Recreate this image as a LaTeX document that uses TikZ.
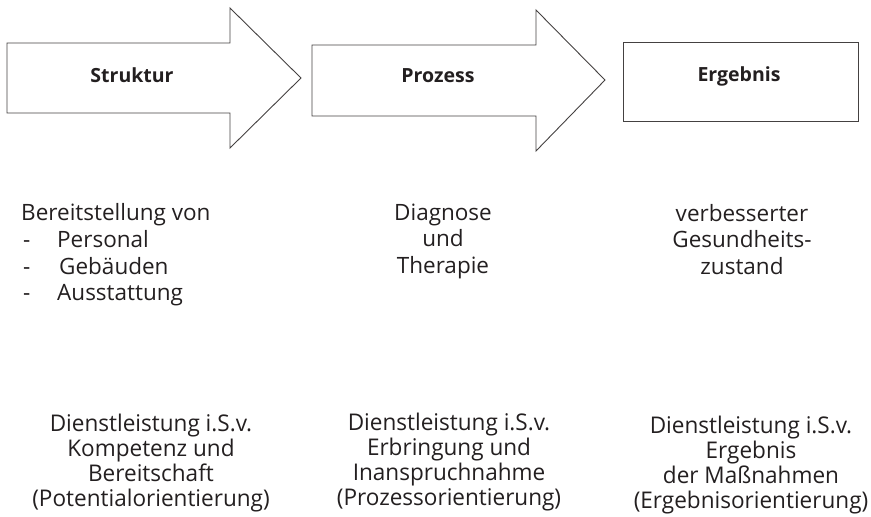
\documentclass[tikz,border=0pt]{standalone}
\usepackage{fontspec}
\setmainfont{Open Sans}
\newfontfamily\narrowfont[FakeStretch=0.98]{Open Sans}
\definecolor{ink}{HTML}{231F20}
\begin{document}
\begin{tikzpicture}[x=1pt,y=-1pt,
  shapeline/.style={draw=ink!85,line width=0.9pt,line join=miter},
  title/.style={font=\fontsize{19.5}{22}\selectfont\bfseries,text=ink,inner sep=0pt},
  midtext/.style={font=\fontsize{22.5}{26.7}\selectfont,text=ink,inner sep=0pt},
  bottext/.style={font=\narrowfont\fontsize{23}{24.8}\selectfont,text=ink,inner sep=0pt,align=center}]
\useasboundingbox (0,0) rectangle (871,517);
% shapes
\draw[shapeline] (7,43) -- (230,43) -- (230,8) -- (301,78) -- (230,148) -- (230,113) -- (7,113) -- cycle;
\draw[shapeline] (312,45) -- (536,45) -- (536,10) -- (605,80) -- (536,151) -- (536,116) -- (312,116) -- cycle;
\draw[shapeline] (623,42) rectangle (858,121);
% titles
\node[title,anchor=base] (struktur) at (132,82) {Struktur};
\node[title,anchor=base] (prozess) at (438,82) {Prozess};
\node[title,anchor=base] (ergebnis) at (739,81.5) {Ergebnis};
% middle texts
\node[midtext,anchor=base west] (bereit) at (21,220) {Bereitstellung von};
\node[midtext,anchor=base west] (d1) at (23,247) {-};
\node[midtext,anchor=base west] (l1) at (57,247) {Personal};
\node[midtext,anchor=base west] (d2) at (23,274) {-};
\node[midtext,anchor=base west] (l2) at (59,274) {Gebäuden};
\node[midtext,anchor=base west] (d3) at (23,300) {-};
\node[midtext,anchor=base west] (l3) at (57,300) {Ausstattung};
\node[midtext,align=center,anchor=base] (diag) at (443,273.4) {Diagnose\\und\\Therapie};
\node[midtext,align=center,anchor=base] (verb) at (742,274.4) {verbesserter\\Gesundheits-\\zustand};
% bottom texts (anchor = baseline of last line)
\node[bottext,anchor=base] (b1) at (151,506) {Dienstleistung i.S.v.\\Kompetenz und\\Bereitschaft\\(Potentialorientierung)};
\node[bottext,anchor=base] (b2) at (449,505) {Dienstleistung i.S.v.\\Erbringung und\\Inanspruchnahme\\(Prozessorientierung)};
\node[bottext,anchor=base] (b3) at (751,508) {Dienstleistung i.S.v.\\Ergebnis\\der Maßnahmen\\(Ergebnisorientierung)};
\end{tikzpicture}
\end{document}
